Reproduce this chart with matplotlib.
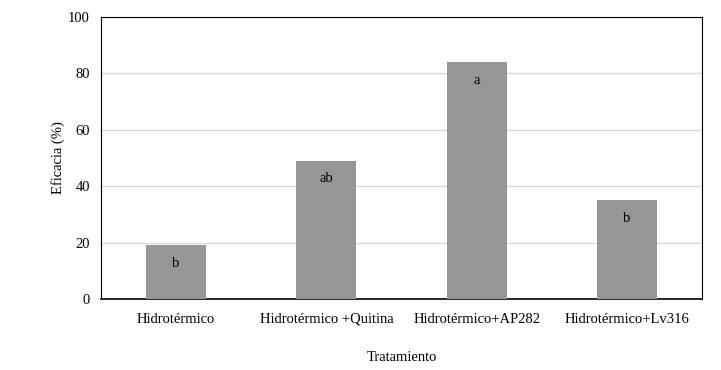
import matplotlib.pyplot as plt
import numpy as np

plt.rcParams['font.family'] = ['Liberation Serif', 'DejaVu Serif']

# Data
tratamientos = ['Hidrotérmico', 'Hidrotérmico +Quitina', 'Hidrotérmico+AP282', 'Hidrotérmico+Lv316']
eficacia = [19, 49, 84, 35]
letras = ['b', 'ab', 'a', 'b']

fig = plt.figure(figsize=(7.21, 3.70), dpi=100)
ax = fig.add_axes([101 / 721, 71 / 370, 601 / 721, 282 / 370])

x = np.arange(len(tratamientos))
bars = ax.bar(x, eficacia, width=0.4, color='#969696', zorder=3)

# Significance letters just inside the top of each bar
for xi, val, let in zip(x, eficacia, letras):
    ax.annotate(let, (xi, val), xytext=(0, -18), textcoords='offset pixels',
                ha='center', va='center', fontsize=10.5, zorder=4)

ax.set_xlim(-0.5, 3.5)
ax.set_ylim(0, 100)
ax.set_yticks(range(0, 101, 20))
ax.set_xticks(x)
ax.set_xticklabels(tratamientos)
ax.tick_params(axis='both', length=0, labelsize=10.5)
ax.tick_params(axis='x', pad=10)
ax.tick_params(axis='y', pad=8)
ax.grid(axis='y', color='#d9d9d9', linewidth=1, zorder=0)

for side in ['top', 'right', 'left']:
    ax.spines[side].set_linewidth(0.8)
ax.spines['bottom'].set_linewidth(1.2)

ax.set_xlabel('Tratamiento', fontsize=10.5, labelpad=18)
ax.set_ylabel('Eficacia (%)', fontsize=10.5, labelpad=2)

fig.savefig('out.png', dpi=100)
